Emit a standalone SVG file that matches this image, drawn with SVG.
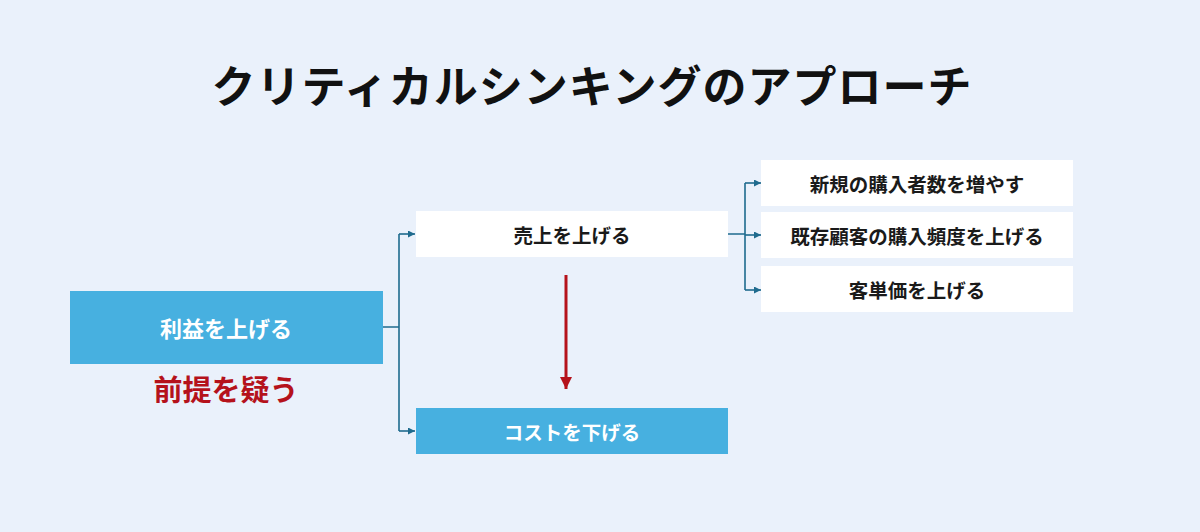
<svg xmlns="http://www.w3.org/2000/svg" width="1200" height="532" viewBox="0 0 1200 532">
<style>
text{font-family:"Noto Sans CJK JP","Noto Sans",sans-serif;font-weight:700;text-anchor:middle;dominant-baseline:central}
.blue{fill:#47B0E0}
.white{fill:#FFFFFF}
.lbl{font-size:19.5px;fill:#1a1a1a}
.lblw{font-size:19.5px;fill:#FFFFFF}
.big{font-size:22px}
.conn{fill:none;stroke:#1F6B8E;stroke-width:1.6}
</style>
<defs>
<marker id="ah" viewBox="0 0 10 10" refX="10" refY="5" markerWidth="7" markerHeight="7" markerUnits="userSpaceOnUse" orient="auto"><path d="M0,0 L10,5 L0,10 Z" fill="#1F6B8E"/></marker>
<marker id="rah" viewBox="0 0 10 10" refX="10" refY="5" markerWidth="12" markerHeight="12" markerUnits="userSpaceOnUse" orient="auto"><path d="M0,0 L10,5 L0,10 Z" fill="#B5121B"/></marker>
</defs>
<rect width="1200" height="532" fill="#EAF1FB"/>
<text x="592" y="84" font-size="44" fill="#111" letter-spacing="1">クリティカルシンキングのアプローチ</text>
<g id="connectors">
<path class="conn" d="M383,327 H399 M399,234 V431"/>
<path class="conn" d="M399,234 H415" marker-end="url(#ah)"/>
<path class="conn" d="M399,431 H415" marker-end="url(#ah)"/>
<path class="conn" d="M728,234 H745 M745,183 V290"/>
<path class="conn" d="M745,183 H761" marker-end="url(#ah)"/>
<path class="conn" d="M745,235 H761" marker-end="url(#ah)"/>
<path class="conn" d="M745,290 H761" marker-end="url(#ah)"/>
<path d="M566,275 V389" stroke="#B5121B" stroke-width="3" fill="none" marker-end="url(#rah)"/>
</g>
<g id="profit">
<rect class="blue" x="70" y="291" width="313" height="73"/>
<text class="lblw big" x="226" y="327">利益を上げる</text>
</g>
<g id="question">
<text x="226" y="388" font-size="29" fill="#B5121B">前提を疑う</text>
</g>
<g id="sales">
<rect class="white" x="416" y="211" width="312" height="46"/>
<text class="lbl" x="572" y="234">売上を上げる</text>
</g>
<g id="cost">
<rect class="blue" x="416" y="408" width="312" height="46"/>
<text class="lblw" x="572" y="431">コストを下げる</text>
</g>
<g id="new-buyers">
<rect class="white" x="761" y="160" width="312" height="46"/>
<text class="lbl" x="917" y="183">新規の購入者数を増やす</text>
</g>
<g id="frequency">
<rect class="white" x="761" y="212" width="312" height="46"/>
<text class="lbl" x="917" y="235">既存顧客の購入頻度を上げる</text>
</g>
<g id="unit-price">
<rect class="white" x="761" y="266" width="312" height="46"/>
<text class="lbl" x="917" y="289">客単価を上げる</text>
</g>
</svg>
